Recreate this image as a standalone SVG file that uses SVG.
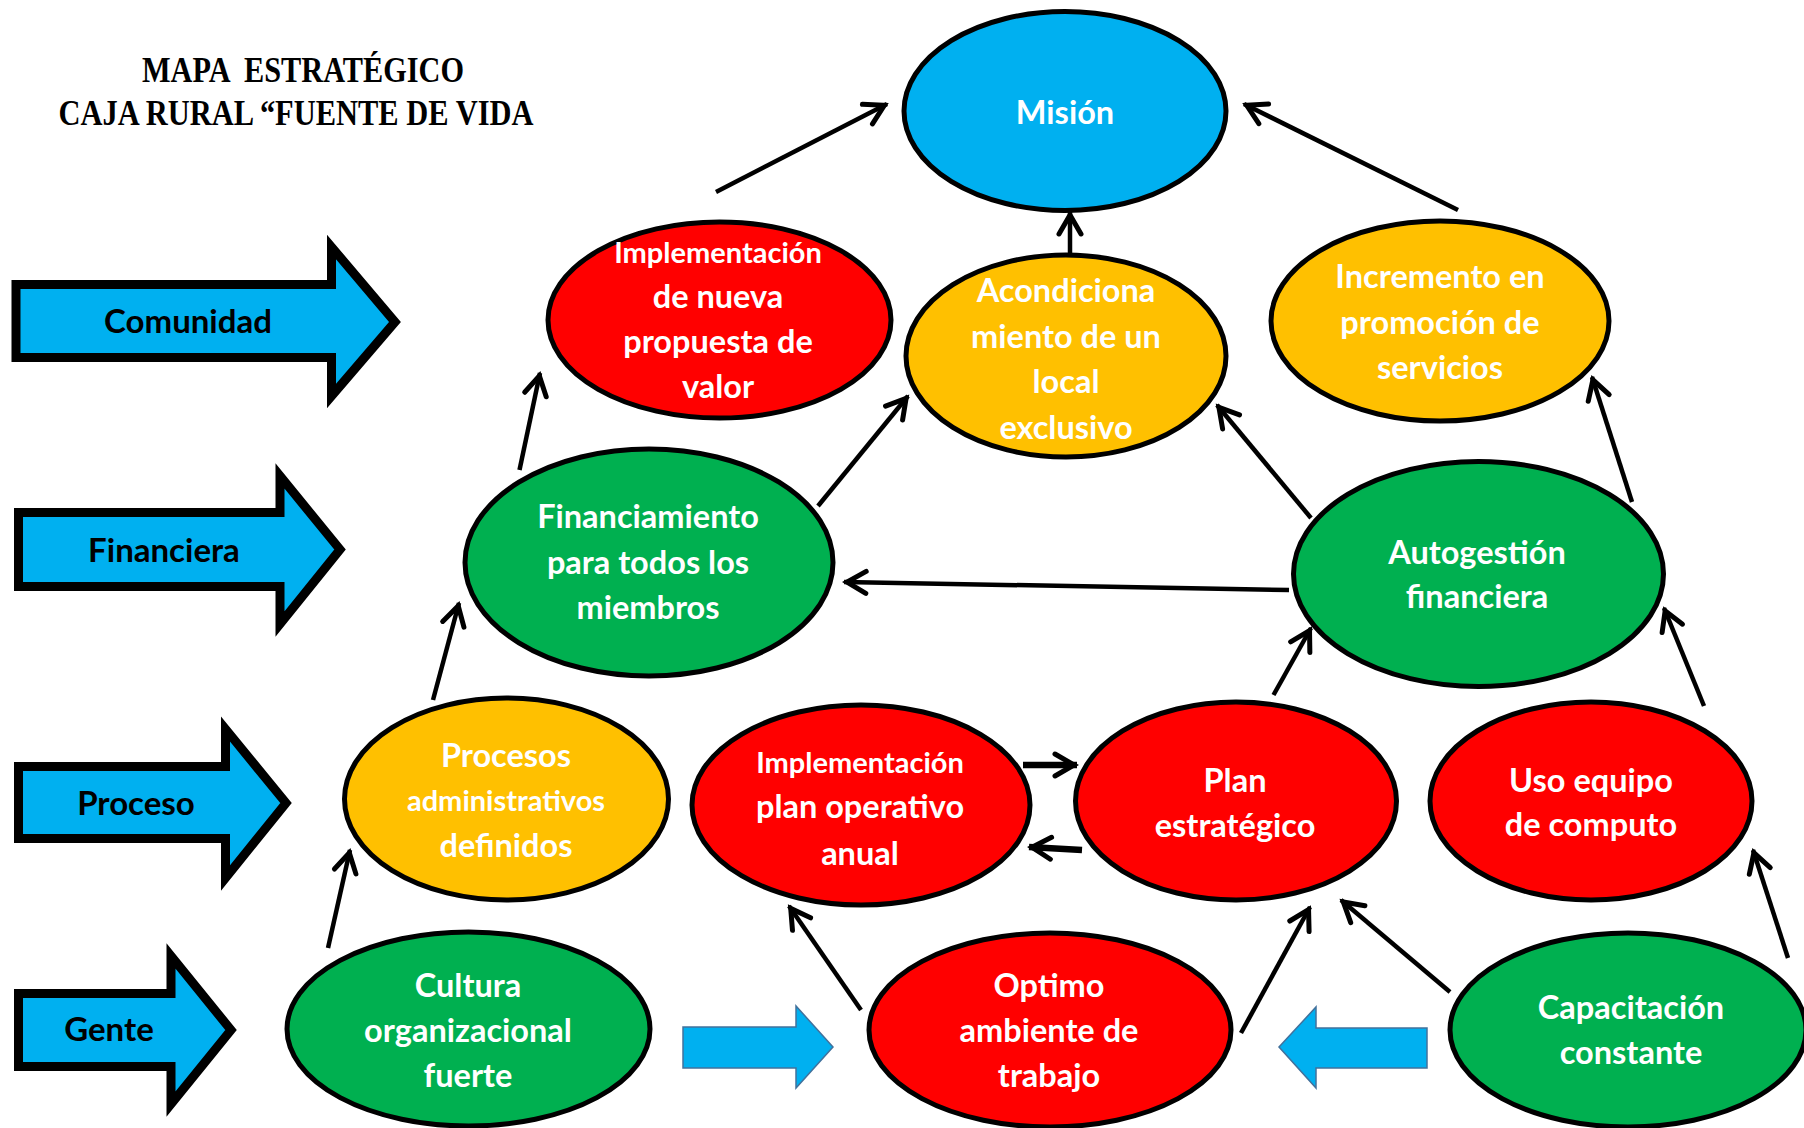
<svg xmlns="http://www.w3.org/2000/svg" width="1804" height="1128" viewBox="0 0 1804 1128">
<style>
.node ellipse{stroke:#000;stroke-width:5}
.red{fill:#FF0000}.org{fill:#FFC000}.grn{fill:#00B050}.blu{fill:#00B0F0}
.nt{font-family:Lato,"Open Sans","Liberation Sans",sans-serif;font-weight:bold;font-size:32.5px;fill:#fff;text-anchor:middle}
.sm{font-size:29px}
.side polygon{fill:#00B0F0;stroke:#000;stroke-width:9;stroke-linejoin:miter}
.st{font-family:Lato,"Open Sans","Liberation Sans",sans-serif;font-weight:bold;font-size:33px;fill:#000;text-anchor:middle}
.title{font-family:"Liberation Serif","Times New Roman",serif;font-weight:bold;font-size:35px;fill:#000;text-anchor:middle;white-space:pre}
.conn line{stroke:#000;stroke-width:4.5;marker-end:url(#ah)}
.conn line.thick{stroke-width:6.5}
.blk{fill:#00B0F0;stroke:#41719C;stroke-width:1.5}
</style>
<defs>
<marker id="ah" markerUnits="userSpaceOnUse" viewBox="-30 -16 36 32" markerWidth="36" markerHeight="32" refX="0" refY="0" orient="auto" overflow="visible">
<path d="M-22,-11 L-3,0 L-22,11" fill="none" stroke="#000" stroke-width="5" stroke-linecap="round"/>
</marker>
</defs>
<rect width="1804" height="1128" fill="#fff"/>

<g id="title">
<text class="title" x="303" y="82" textLength="322" lengthAdjust="spacingAndGlyphs" xml:space="preserve">MAPA  ESTRATÉGICO</text>
<text class="title" x="296" y="125" textLength="475" lengthAdjust="spacingAndGlyphs">CAJA RURAL “FUENTE DE VIDA</text>
</g>

<g id="side-comunidad" class="side">
<polygon points="16,284.5 331.5,284.5 331.5,247 395,322 331.5,396 331.5,357.5 16,357.5"/>
<text class="st" x="188" y="333">Comunidad</text>
</g>
<g id="side-financiera" class="side">
<polygon points="18.5,512.5 280,512.5 280,476 340,549.5 280,624 280,586.5 18.5,586.5"/>
<text class="st" x="164" y="562">Financiera</text>
</g>
<g id="side-proceso" class="side">
<polygon points="18.5,766.5 225.5,766.5 225.5,729 286,803 225.5,878 225.5,838.5 18.5,838.5"/>
<text class="st" x="136" y="815">Proceso</text>
</g>
<g id="side-gente" class="side">
<polygon points="18.5,993.5 171,993.5 171,956 231,1030 171,1104 171,1066.5 18.5,1066.5"/>
<text class="st" x="109" y="1041">Gente</text>
</g>

<g id="conn" class="conn">
<line x1="716" y1="192" x2="887" y2="104"/>
<line x1="1070" y1="254" x2="1070" y2="212"/>
<line x1="1458" y1="210" x2="1244" y2="104"/>
<line x1="519.5" y1="470" x2="540" y2="373"/>
<line x1="818" y1="506" x2="908" y2="396"/>
<line x1="1289" y1="590" x2="844" y2="582"/>
<line x1="1311" y1="518" x2="1217" y2="405"/>
<line x1="1632" y1="502" x2="1592" y2="377"/>
<line x1="433" y1="700" x2="459" y2="603"/>
<line class="thick" x1="1023" y1="765" x2="1077" y2="765"/>
<line class="thick" x1="1082" y1="850" x2="1029" y2="847"/>
<line x1="1273.5" y1="695" x2="1311" y2="628"/>
<line x1="1704" y1="706" x2="1664" y2="608"/>
<line x1="328" y1="948" x2="350" y2="850"/>
<line x1="861" y1="1010" x2="789" y2="906"/>
<line x1="1241" y1="1033" x2="1310" y2="907"/>
<line x1="1450" y1="992" x2="1341" y2="900"/>
<line x1="1788" y1="958" x2="1753" y2="850"/>
<polygon class="blk" points="683,1027 796,1027 796,1006 833,1047 796,1088 796,1068 683,1068"/>
<polygon class="blk" points="1427,1028 1316,1028 1316,1007 1279,1047 1316,1088 1316,1068 1427,1068"/>
</g>

<g id="mision" class="node">
<ellipse class="blu" cx="1065" cy="111" rx="161" ry="99.5"/>
<text class="nt" x="1065" y="124">Misión</text>
</g>
<g id="impl-propuesta" class="node">
<ellipse class="red" cx="719.5" cy="320" rx="171.5" ry="98"/>
<text class="nt sm" x="718" y="263">Implementación</text>
<text class="nt" x="718" y="308">de nueva</text>
<text class="nt" x="718" y="353">propuesta de</text>
<text class="nt" x="718" y="398">valor</text>
</g>
<g id="acondicionamiento" class="node">
<ellipse class="org" cx="1066" cy="356" rx="160" ry="101"/>
<text class="nt" x="1066" y="302">Acondiciona</text>
<text class="nt" x="1066" y="348">miento de un</text>
<text class="nt" x="1066" y="393">local</text>
<text class="nt" x="1066" y="439">exclusivo</text>
</g>
<g id="incremento" class="node">
<ellipse class="org" cx="1440" cy="321" rx="169" ry="100"/>
<text class="nt" x="1440" y="288">Incremento en</text>
<text class="nt" x="1440" y="334">promoción de</text>
<text class="nt" x="1440" y="379">servicios</text>
</g>
<g id="financiamiento" class="node">
<ellipse class="grn" cx="649" cy="562.5" rx="184" ry="113.5"/>
<text class="nt" x="648" y="528">Financiamiento</text>
<text class="nt" x="648" y="574">para todos los</text>
<text class="nt" x="648" y="619">miembros</text>
</g>
<g id="autogestion" class="node">
<ellipse class="grn" cx="1478.5" cy="574" rx="185" ry="112.5"/>
<text class="nt" x="1477" y="564">Autogestión</text>
<text class="nt" x="1477" y="608">financiera</text>
</g>
<g id="procesos" class="node">
<ellipse class="org" cx="506.5" cy="799" rx="162" ry="101"/>
<text class="nt" x="506" y="767">Procesos</text>
<text class="nt sm" x="506" y="811">administrativos</text>
<text class="nt" x="506" y="857">definidos</text>
</g>
<g id="impl-plan" class="node">
<ellipse class="red" cx="861" cy="805" rx="169" ry="100"/>
<text class="nt sm" x="860" y="773">Implementación</text>
<text class="nt" x="860" y="818">plan operativo</text>
<text class="nt" x="860" y="865">anual</text>
</g>
<g id="plan" class="node">
<ellipse class="red" cx="1236" cy="801" rx="160.5" ry="99"/>
<text class="nt" x="1235" y="792">Plan</text>
<text class="nt" x="1235" y="837">estratégico</text>
</g>
<g id="uso" class="node">
<ellipse class="red" cx="1591" cy="801" rx="161" ry="99"/>
<text class="nt" x="1591" y="792">Uso equipo</text>
<text class="nt" x="1591" y="836">de computo</text>
</g>
<g id="cultura" class="node">
<ellipse class="grn" cx="468.5" cy="1029" rx="181.5" ry="97"/>
<text class="nt" x="468" y="997">Cultura</text>
<text class="nt" x="468" y="1042">organizacional</text>
<text class="nt" x="468" y="1087">fuerte</text>
</g>
<g id="optimo" class="node">
<ellipse class="red" cx="1050" cy="1030" rx="181" ry="97"/>
<text class="nt" x="1049" y="997">Optimo</text>
<text class="nt" x="1049" y="1042">ambiente de</text>
<text class="nt" x="1049" y="1087">trabajo</text>
</g>
<g id="capacitacion" class="node">
<ellipse class="grn" cx="1628" cy="1030" rx="178" ry="97"/>
<text class="nt" x="1631" y="1019">Capacitación</text>
<text class="nt" x="1631" y="1064">constante</text>
</g>
</svg>
